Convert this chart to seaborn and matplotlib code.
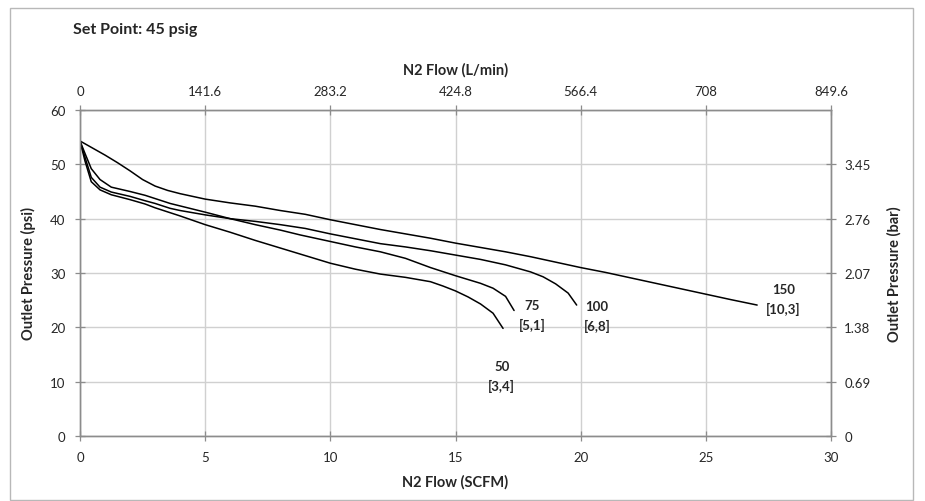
import matplotlib
matplotlib.use("Agg")
from matplotlib import pyplot as plt
from matplotlib.patches import Rectangle
import pandas as pd
import seaborn as sns

# flow in SCFM, outlet pressure in psi, one curve per inlet pressure
flow_150 = [0, 0.5, 1.0, 1.5, 2.0, 2.5, 3.0, 3.5, 4.0, 5.0, 6.0, 7.0, 8.0, 9.0, 10.0, 11.0, 12.0,
            13.0, 14.0, 15.0, 16.0, 17.0, 18.0, 19.0, 20.0, 21.0, 22.0, 23.0, 24.0, 25.0, 26.0, 27.05]
psi_150 = [54.3, 53.0, 51.7, 50.3, 48.8, 47.2, 46.0, 45.2, 44.6, 43.6, 42.9, 42.3, 41.5, 40.8, 39.8, 38.9, 38.0,
           37.2, 36.4, 35.5, 34.7, 33.9, 33.0, 32.0, 31.0, 30.1, 29.1, 28.1, 27.1, 26.1, 25.1, 24.1]

flow_100 = [0, 0.2, 0.45, 0.8, 1.25, 2.0, 2.6, 3.0, 3.6, 4.0, 5.0, 6.0, 7.0, 8.0, 9.0, 10.0, 11.0, 12.0,
            13.0, 14.0, 15.0, 16.0, 17.0, 18.0, 18.5, 19.0, 19.5, 19.84]
psi_100 = [54.3, 51.3, 47.6, 45.8, 44.9, 44.1, 43.3, 42.8, 41.9, 41.5, 40.7, 40.0, 39.5, 38.9, 38.2, 37.2, 36.3, 35.4,
           34.8, 34.1, 33.3, 32.5, 31.5, 30.2, 29.3, 28.0, 26.3, 24.1]

flow_75 = [0, 0.2, 0.45, 0.8, 1.25, 2.0, 2.6, 3.6, 5.0, 6.0, 7.0, 8.0, 8.8, 10.0, 11.0, 12.0, 13.0, 14.0,
           15.0, 16.0, 16.5, 17.0, 17.34]
psi_75 = [54.3, 52.0, 49.2, 47.2, 45.8, 45.0, 44.3, 42.8, 41.2, 40.0, 38.9, 37.9, 37.0, 35.8, 34.8, 33.9, 32.7, 31.0,
          29.5, 28.1, 27.2, 25.7, 23.1]

flow_50 = [0, 0.2, 0.45, 0.8, 1.25, 2.0, 2.6, 3.0, 3.6, 4.0, 5.0, 6.0, 7.0, 8.0, 9.0, 10.0, 11.0, 12.0, 13.0,
           14.0, 14.5, 15.0, 15.5, 16.0, 16.5, 16.9]
psi_50 = [54.3, 50.6, 46.8, 45.3, 44.4, 43.5, 42.7, 42.0, 41.1, 40.5, 38.9, 37.5, 36.0, 34.6, 33.2, 31.8, 30.7, 29.8,
          29.2, 28.4, 27.6, 26.7, 25.6, 24.3, 22.6, 19.8]

curve_names = ["150", "100", "75", "50"]
curve_labels = ["150\n[10,3]", "100\n[6,8]", "75\n[5,1]", "50\n[3,4]"]

x_ticks = [0, 5, 10, 15, 20, 25, 30]
lpm_labels = ["0", "141.6", "283.2", "424.8", "566.4", "708", "849.6"]
y_ticks = [0, 10, 20, 30, 40, 50, 60]
bar_ticks = [0, 10, 20, 30, 40, 50]
bar_labels = ["0", "0.69", "1.38", "2.07", "2.76", "3.45"]

frames = []
for name, fl, ps in zip(curve_names,
                        [flow_150, flow_100, flow_75, flow_50],
                        [psi_150, psi_100, psi_75, psi_50]):
    frames.append(pd.DataFrame({"flow": fl, "psi": ps, "curve": name}))
df = pd.concat(frames, ignore_index=True)

sns.set_style("white")
plt.rcParams["font.family"] = ["Lato", "DejaVu Sans"]

fig = plt.figure(figsize=(9.25, 5.02), dpi=100)
fig.patches.append(Rectangle((10 / 925, 1 / 502), 903 / 925, 492 / 502, transform=fig.transFigure,
                             fill=False, edgecolor="#b8b8b8", lw=1.0))
ax = fig.add_axes([80 / 925, 65 / 502, 751 / 925, 326 / 502])

sns.lineplot(data=df, x="flow", y="psi", units="curve", estimator=None, sort=False,
             color="black", lw=1.1, ax=ax, zorder=3)

axis_grey = "#8c8c8c"
grid_grey = "#d0d0d0"
ax.set_xlim(0, 30)
ax.set_ylim(0, 60)
ax.set_xticks(x_ticks)
ax.set_yticks(y_ticks)
ax.tick_params(direction="inout", length=7, width=0.9, color=axis_grey, labelsize=9.5, pad=7)
ax.set_xlabel("N2 Flow (SCFM)", fontsize=10.5, fontweight="bold", labelpad=8)
ax.set_ylabel("Outlet Pressure (psi)", fontsize=10.5, fontweight="bold", labelpad=10)

# secondary scales
top = ax.twiny()
top.set_xlim(ax.get_xlim())
top.set_xticks(x_ticks)
top.set_xticklabels(lpm_labels)
top.set_xlabel("N2 Flow (L/min)", fontsize=10.5, fontweight="bold", labelpad=8)
top.tick_params(direction="inout", length=7, width=0.9, color=axis_grey, labelsize=9.5, pad=6)

right = ax.twinx()
right.set_ylim(ax.get_ylim())
right.set_yticks(bar_ticks)
right.set_yticklabels(bar_labels)
right.set_ylabel("Outlet Pressure (bar)", fontsize=10.5, fontweight="bold", labelpad=12)
right.tick_params(direction="inout", length=7, width=0.9, color=axis_grey, labelsize=9.5, pad=6)
for a in (ax, top, right):
    for s in a.spines.values():
        s.set_color(axis_grey)
        s.set_linewidth(0.9)

ax.xaxis.grid(True, color=grid_grey, lw=1.0)
ax.yaxis.grid(True, color=grid_grey, lw=1.0)
ax.set_axisbelow(True)

label_pos = [(28.1, 25.2), (20.65, 22.1), (18.05, 22.3), (16.85, 11.0)]
for txt, (lx, ly) in zip(curve_labels, label_pos):
    ax.text(lx, ly, txt, ha="center", va="center", fontsize=9.5, fontweight="bold", linespacing=1.6)

fig.text(73 / 925, 1 - 30 / 502, "Set Point: 45 psig", fontsize=11.5, fontweight="bold", va="center")

fig.savefig("out.png", dpi=100)
